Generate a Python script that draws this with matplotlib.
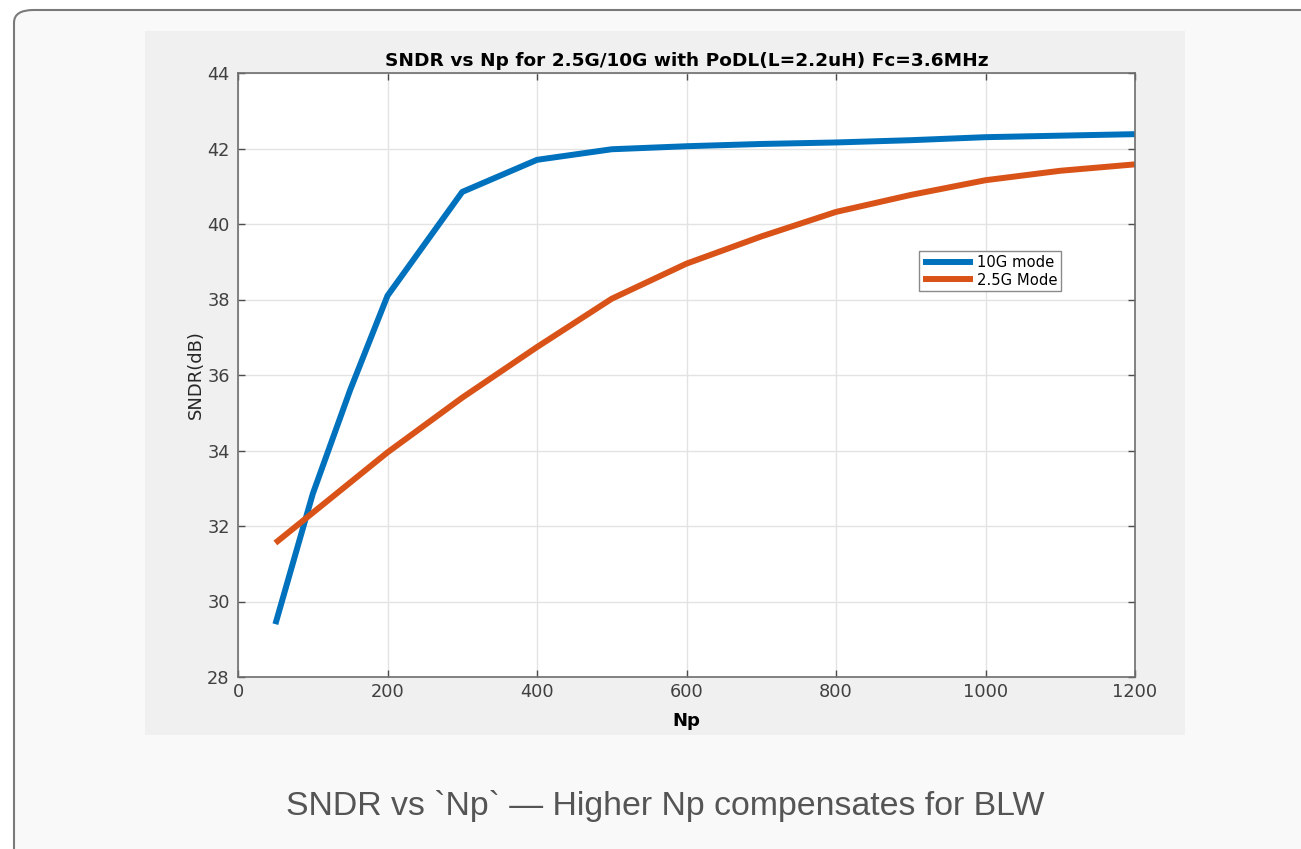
import matplotlib
matplotlib.use("Agg")
import matplotlib.pyplot as plt
from matplotlib.patches import FancyBboxPatch, Rectangle

# values
np_10g = [50, 100, 150, 200, 300, 400, 500, 600, 700, 800, 900, 1000, 1100, 1200]
sndr_10g = [29.4, 32.85, 35.6, 38.1, 40.85, 41.7, 41.98, 42.06, 42.12, 42.16, 42.22, 42.3, 42.34, 42.38]
np_25g = [50, 100, 200, 300, 400, 500, 600, 700, 800, 900, 1000, 1100, 1200]
sndr_25g = [31.55, 32.35, 33.95, 35.4, 36.74, 38.02, 38.95, 39.67, 40.32, 40.77, 41.16, 41.41, 41.58]

x_ticks = [0, 200, 400, 600, 800, 1000, 1200]
y_ticks = [28, 30, 32, 34, 36, 38, 40, 42, 44]

W, H = 1301, 849
fig = plt.figure(figsize=(W / 100, H / 100), dpi=100, facecolor="white")

# outer card with rounded border
card = FancyBboxPatch((14 / W, 1 - 1200 / H), 1400 / W, (1200 - 10) / H,
                      boxstyle="round,pad=0,rounding_size=0.015",
                      transform=fig.transFigure, facecolor="#f9f9f9",
                      edgecolor="#7a7a7a", linewidth=1.5, zorder=0)
fig.patches.append(card)

# gray matlab figure panel
panel = Rectangle((145 / W, 1 - 735 / H), (1185 - 145) / W, (735 - 31) / H,
                  transform=fig.transFigure, facecolor="#f0f0f0",
                  edgecolor="none", zorder=1)
fig.patches.append(panel)

ax = fig.add_axes([238 / W, 1 - 677 / H, (1135 - 238) / W, (677 - 73) / H])
ax.set_zorder(2)
ax.set_facecolor("white")

ax.plot(np_10g, sndr_10g, color="#0072BD", linewidth=4.3, label="10G mode",
        solid_capstyle="butt", solid_joinstyle="round")
ax.plot(np_25g, sndr_25g, color="#D95319", linewidth=4.3, label="2.5G Mode",
        solid_capstyle="butt", solid_joinstyle="round")

ax.set_xlim(0, 1200)
ax.set_ylim(28, 44)
ax.set_xticks(x_ticks)
ax.set_yticks(y_ticks)
ax.grid(True, color="#e3e3e3", linewidth=1)
ax.set_axisbelow(True)
ax.tick_params(direction="in", length=5, width=1, color="#4d4d4d",
               labelcolor="#404040", labelsize=12.8, top=True, right=True,
               pad=6)
ax.tick_params(axis="x", pad=4)
for s in ax.spines.values():
    s.set_color("#6e6e6e")
    s.set_linewidth(1.2)

ax.set_title("SNDR vs Np for 2.5G/10G with PoDL(L=2.2uH) Fc=3.6MHz",
             fontsize=13.3, fontweight="bold", pad=5)
ax.set_xlabel("Np", fontsize=13, fontweight="bold", labelpad=8)
ax.set_ylabel("SNDR(dB)", fontsize=13, color="#262626", labelpad=2)

leg = ax.legend(loc="upper left", bbox_to_anchor=((919 - 238) / 897, 1 - (251 - 73) / 604),
                fontsize=10.6, handlelength=3.4, handletextpad=0.3,
                borderpad=0.25, labelspacing=0.2, borderaxespad=0,
                fancybox=False, framealpha=1)
leg.get_frame().set_edgecolor("#8a8a8a")
leg.get_frame().set_linewidth(1)

fig.text(665 / W, 1 - 806 / H, "SNDR vs `Np` \u2014 Higher Np compensates for BLW",
         ha="center", va="center", fontsize=24.4, color="#555555",
         family=["Liberation Sans", "DejaVu Sans"])

fig.savefig("out.png", dpi=100, facecolor="white")
